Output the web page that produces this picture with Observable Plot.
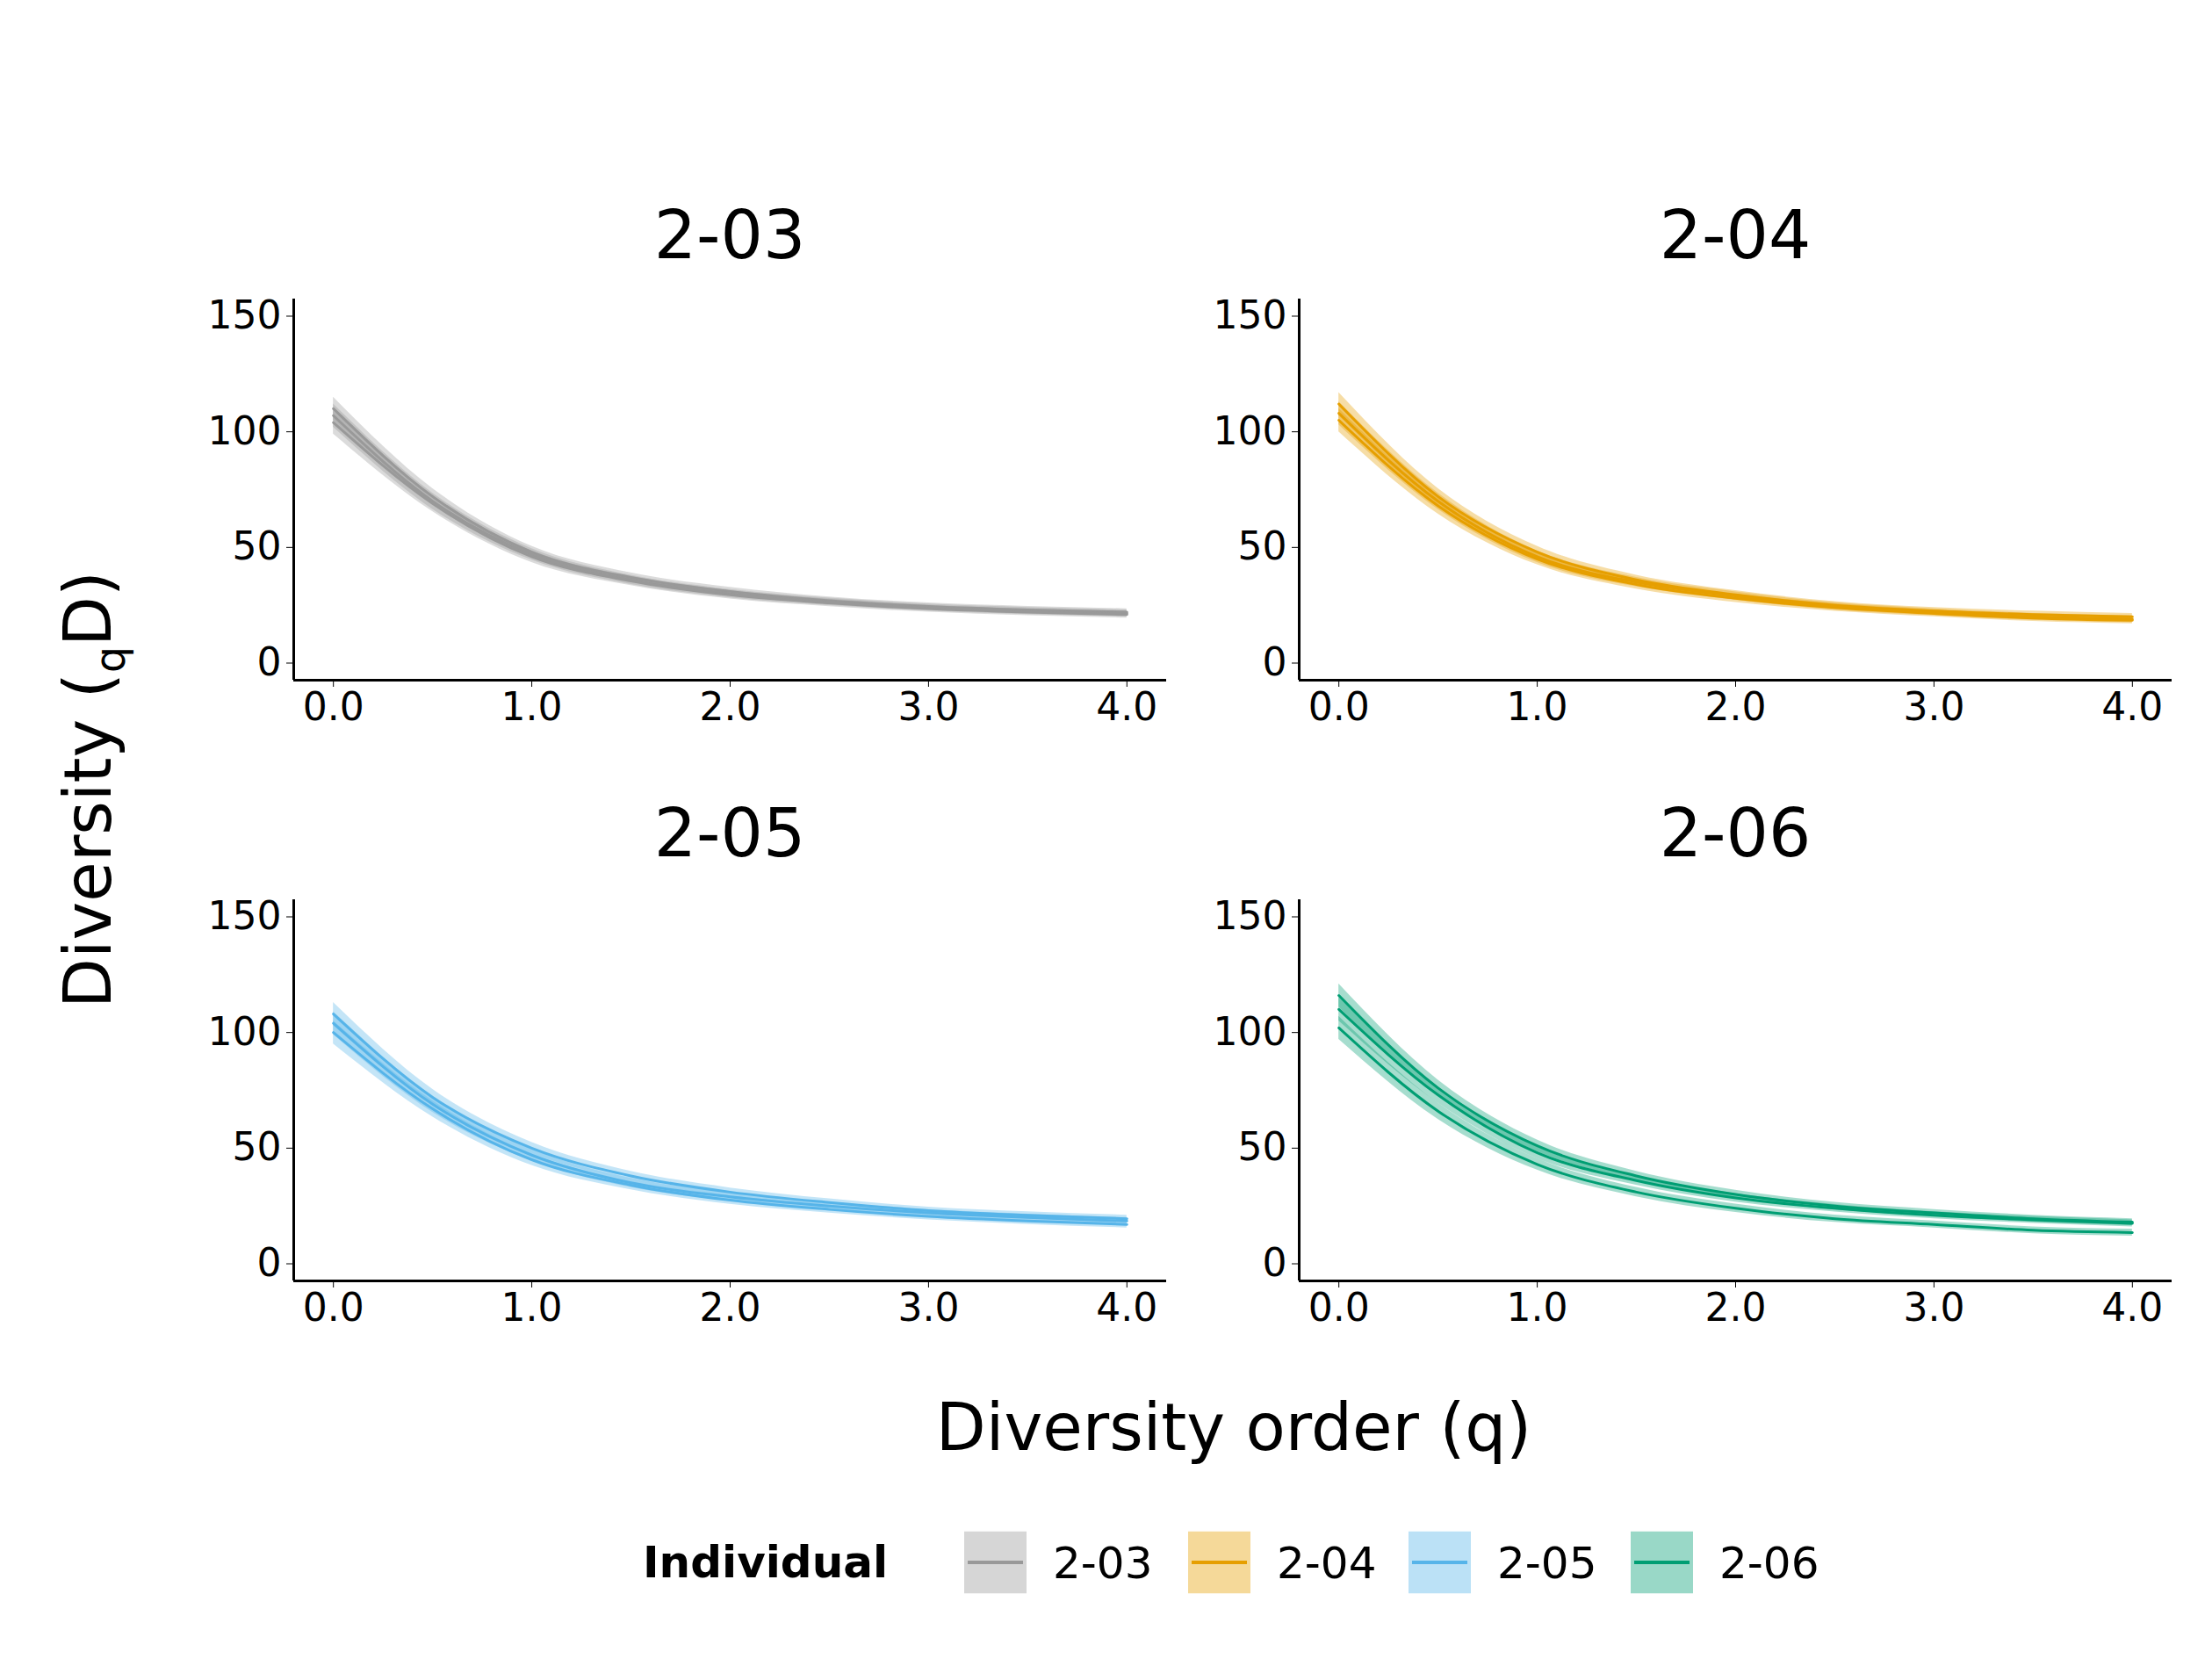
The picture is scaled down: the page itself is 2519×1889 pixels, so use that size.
<!DOCTYPE html>
<html>
<head>
<meta charset="UTF-8">
<script src="https://cdn.jsdelivr.net/npm/d3@7"></script>
<script src="https://cdn.jsdelivr.net/npm/@observablehq/plot@0.6"></script>
<style>
  body { margin: 0; background: white; font-family: "DejaVu Sans", sans-serif; }
  #page { position: relative; width: 2519px; height: 1889px; }
  .abs { position: absolute; }
  .title { font-size: 76px; transform: translate(-50%, -50%); white-space: nowrap; }
  .leg { font-size: 50px; display: flex; align-items: center; }
</style>
</head>
<body>
<div id="page"></div>
<script>
// Diversity order q
const qValues = [0, 0.5, 1, 1.5, 2, 2.5, 3, 3.5, 4];
// Half width of the confidence band at each q
const ciHalfWidth = [5, 3.5, 2.5, 2, 1.8, 1.6, 1.5, 1.5, 1.5];

const individuals = ["2-03", "2-04", "2-05", "2-06"];
const colors = ["#999999", "#E69F00", "#56B4E9", "#009E73"];

// Three samples per individual
const div203 = [
  [110, 72, 48, 37, 31, 27, 24.5, 23, 22],
  [107, 70, 47, 36, 30, 26.5, 24, 22.5, 21.5],
  [104, 69, 46, 35.5, 29.5, 26, 23.5, 22, 21]
];
const div204 = [
  [112, 72, 48, 36, 29.5, 25, 22.5, 21, 20],
  [108, 70, 46, 35, 29, 24.5, 22, 20, 19],
  [105, 68, 45, 34, 28, 24, 21.5, 19.5, 18.5]
];
const div205 = [
  [108, 72, 50, 38, 31, 26.5, 23, 21, 19.5],
  [104, 69, 47, 35, 29, 25, 22, 20, 18.5],
  [100, 67, 45, 34, 27.5, 23.5, 20.5, 18.5, 17]
];
const div206 = [
  [116, 76, 51, 38, 30, 25, 22, 19.5, 18],
  [110, 73, 48, 36, 28.5, 24, 21, 19, 17.5],
  [102, 66, 43, 31, 24, 19.5, 17, 14.5, 13.5]
];
const series = [div203, div204, div205, div206];

const page = document.getElementById("page");
const frames = [
  {left: 334, top: 340}, {left: 1479, top: 340},
  {left: 334, top: 1024}, {left: 1479, top: 1024}
];
const mL = 120, mT = 10, mB = 70, fw = 994, fh = 434;

series.forEach((curves, i) => {
  const rows = [];
  curves.forEach((c, s) => c.forEach((v, j) => rows.push({
    sample: s, q: qValues[j], d: v, lo: v - ciHalfWidth[j], hi: v + ciHalfWidth[j]
  })));
  const col = colors[i];
  const chart = Plot.plot({
    width: mL + fw, height: mT + fh + mB,
    marginLeft: mL, marginRight: 0, marginTop: mT, marginBottom: mB,
    style: {fontSize: "44px", fontFamily: "DejaVu Sans", color: "black", background: "white", overflow: "visible"},
    x: {domain: [-0.2, 4.2], ticks: [0, 1, 2, 3, 4], label: null, tickSize: 8, tickPadding: 6},
    y: {domain: [-7.4, 157.4], ticks: [0, 50, 100, 150], label: null, tickSize: 8, tickPadding: 6},
    marks: [
      Plot.areaY(rows, {x: "q", y1: "lo", y2: "hi", z: "sample", fill: col, fillOpacity: 0.35, curve: "monotone-x"}),
      Plot.line(rows, {x: "q", y: "d", z: "sample", stroke: col, strokeWidth: 3, curve: "monotone-x"}),
      Plot.ruleX([-0.2], {strokeWidth: 3}),
      Plot.ruleY([-7.4], {strokeWidth: 3})
    ]
  });
  const d = document.createElement("div");
  d.className = "abs";
  d.style.left = (frames[i].left - mL) + "px";
  d.style.top = (frames[i].top - mT) + "px";
  d.appendChild(chart);
  page.appendChild(d);

  const t = document.createElement("div");
  t.className = "abs title";
  t.style.left = (frames[i].left + fw / 2) + "px";
  t.style.top = (i < 2 ? 267 : 948) + "px";
  t.textContent = individuals[i];
  page.appendChild(t);
});

// axis titles
const xt = document.createElement("div");
xt.className = "abs title";
xt.style.left = "1405px"; xt.style.top = "1625px"; xt.style.fontSize = "74px";
xt.textContent = "Diversity order (q)";
page.appendChild(xt);

const yt = document.createElement("div");
yt.className = "abs";
yt.style.left = "105px"; yt.style.top = "899px"; yt.style.fontSize = "74px";
yt.style.transform = "translate(-50%, -50%) rotate(-90deg)"; yt.style.whiteSpace = "nowrap";
yt.innerHTML = "Diversity (<sub style='font-size:48px'>q</sub>D)";
page.appendChild(yt);

// legend
const legTitle = document.createElement("div");
legTitle.className = "abs";
legTitle.style.left = "732px"; legTitle.style.top = "1779px";
legTitle.style.transform = "translateY(-50%)";
legTitle.style.fontSize = "50px"; legTitle.style.fontWeight = "bold";
legTitle.textContent = "Individual";
page.appendChild(legTitle);

const keyX = [1098, 1353, 1604, 1857];
individuals.forEach((name, i) => {
  const g = document.createElement("div");
  g.className = "abs leg";
  g.style.left = keyX[i] + "px"; g.style.top = "1779px";
  g.style.transform = "translateY(-50%)";
  g.innerHTML = `<svg width="71" height="71"><rect width="71" height="71" fill="${colors[i]}" fill-opacity="0.4"/>` +
    `<line x1="4" x2="67" y1="35.5" y2="35.5" stroke="${colors[i]}" stroke-width="4"/></svg>` +
    `<span style="margin-left:30px">${name}</span>`;
  page.appendChild(g);
});
</script>
</body>
</html>
